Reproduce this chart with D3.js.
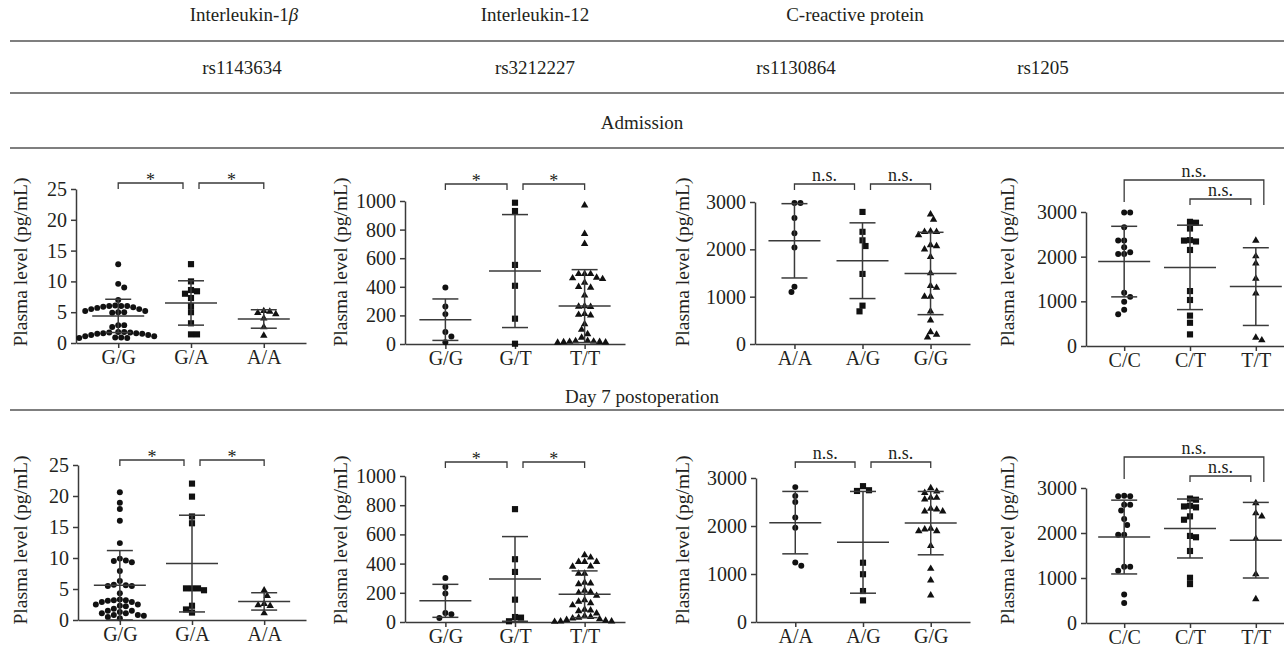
<!DOCTYPE html>
<html>
<head>
<meta charset="utf-8">
<script src="https://cdn.jsdelivr.net/npm/d3@7/dist/d3.min.js"></script>
<style>
  body { margin: 0; background: #fff; }
  text { font-family: "Liberation Serif", "Times New Roman", serif; fill: #231f20; }
</style>
</head>
<body>
<div id="chart"></div>
<script>
// header labels
var proteins = ["Interleukin-1", "Interleukin-12", "C-reactive protein"];
var snps = ["rs1143634", "rs3212227", "rs1130864", "rs1205"];
var timepoints = ["Admission", "Day 7 postoperation"];

// genotypes
var genoIL1 = ["G/G", "G/A", "A/A"];
var genoIL12 = ["G/G", "G/T", "T/T"];
var genoCRP1 = ["A/A", "A/G", "G/G"];
var genoCRP2 = ["C/C", "C/T", "T/T"];

// y ticks
var ticksIL1 = [0, 5, 10, 15, 20, 25];
var ticksIL12 = [0, 200, 400, 600, 800, 1000];
var ticksCRP = [0, 1000, 2000, 3000];

// --- admission ---
var adIL1 = [
  [12.8, 9.0, 9.6, 7.0, 6.1, 6.0, 5.9, 5.7, 5.5, 5.2, 5.0, 4.9, 5.0, 5.2, 5.5, 5.8, 6.0, 6.0,
   2.9, 2.6, 2.9, 1.8, 1.7, 1.6, 1.5, 1.3, 1.1, 0.9, 0.8, 0.8, 0.9, 1.1, 1.3, 1.5, 1.6, 1.7, 1.8],
  [12.8, 10.0, 8.6, 8.0, 8.4, 7.3, 6.0, 5.0, 3.2, 1.4, 1.4],
  [5.1, 4.7, 4.0, 4.9, 5.2, 2.6, 1.2]
];
var adIL1Mean = [4.4, 6.5, 3.9];
var adIL1SD = [2.7, 3.6, 1.5];

var adIL12 = [
  [395, 263, 209, 84, 53, 12],
  [988, 930, 553, 407, 177, 2],
  [970, 770, 700, 490, 490, 490, 465, 460, 455, 430, 400, 395, 340, 265, 262, 260, 210, 205, 200,
   140, 100, 70, 45, 22, 20, 18, 16, 15, 14, 12, 10]
];
var adIL12Mean = [170, 510, 265];
var adIL12SD = [145, 395, 255];

var adCRP1 = [
  [2980, 2980, 2660, 2340, 2040, 1100, 1210],
  [2790, 2370, 2190, 2070, 1480, 810, 690],
  [2740, 2630, 2380, 2370, 2370, 2300, 2070, 2090, 2000, 1840, 1500, 1190, 1230, 1000, 1000,
   690, 500, 250, 140, 200]
];
var adCRP1Mean = [2180, 1760, 1490];
var adCRP1SD = [785, 800, 870];

var adCRP2 = [
  [2990, 2990, 2660, 2360, 2360, 2210, 2060, 2060, 2100, 1190, 1100, 990, 710, 810],
  [2780, 2760, 2630, 2370, 2360, 2340, 2150, 1230, 1030, 680, 520, 260],
  [2360, 2010, 1850, 1510, 1180, 130, 190]
];
var adCRP2Mean = [1890, 1760, 1330];
var adCRP2SD = [790, 945, 870];

// --- day 7 postoperation ---
var d7IL1 = [
  [20.6, 18.9, 17.9, 16.0, 12.4, 9.9, 9.6, 9.5, 9.3, 7.9, 6.3, 5.6, 5.5, 5.7, 5.5, 4.3,
   3.2, 3.1, 2.9, 2.5, 2.3, 2.2, 2.5, 2.9, 3.2, 3.3, 1.5, 1.3, 1.1, 0.8, 0.7, 0.5, 0.8, 1.1, 1.5, 1.8, 0.3],
  [22.0, 19.9, 16.7, 15.6, 5.1, 5.1, 4.8, 5.1, 2.3, 1.2, 1.7],
  [4.8, 3.9, 2.6, 2.3, 2.4, 1.1]
];
var d7IL1Mean = [5.6, 9.1, 3.0];
var d7IL1SD = [5.6, 7.8, 1.4];

var d7IL12 = [
  [302, 240, 195, 62, 53, 27],
  [773, 430, 343, 153, 30, 34, 5],
  [458, 442, 412, 412, 412, 382, 380, 332, 332, 270, 265, 260, 215, 205, 200, 180, 150, 140, 130,
   115, 85, 80, 75, 60, 40, 35, 30, 25, 20, 15, 10, 5, 5, 2]
];
var d7IL12Mean = [145, 295, 190];
var d7IL12SD = [113, 290, 160];

var d7CRP1 = [
  [2810, 2625, 2500, 2175, 1965, 1170, 1240],
  [2830, 2730, 2745, 1235, 995, 645, 450],
  [2720, 2790, 2590, 2590, 2690, 2555, 2360, 2305, 2305, 2345, 1930, 1895, 1895, 1945, 1585, 1110, 870, 555]
];
var d7CRP1Mean = [2070, 1660, 2060];
var d7CRP1SD = [650, 1060, 660];

var d7CRP2 = [
  [2830, 2815, 2815, 2630, 2630, 2500, 2310, 2180, 1960, 1960, 1250, 1250, 1160, 635, 445],
  [2765, 2740, 2605, 2570, 2590, 2370, 2295, 1905, 1935, 1600, 1005, 865],
  [2665, 2440, 2370, 1870, 1085, 530]
];
var d7CRP2Mean = [1910, 2100, 1840];
var d7CRP2SD = [820, 655, 840];

// significance labels for the brackets
var sigIL1 = ["*", "*"];
var sigIL12 = ["*", "*"];
var sigCRP1 = ["n.s.", "n.s."];
var sigCRP2 = ["n.s.", "n.s."];

var W = 1284, H = 652;
var ink = "#3a3a3a";

var svg = d3.select("#chart").append("svg")
    .attr("width", W)
    .attr("height", H);

// header rules and labels
[41, 93, 148, 410].forEach(function(y) {
  svg.append("line").attr("x1", 10).attr("x2", W).attr("y1", y).attr("y2", y)
    .attr("stroke", "#555").attr("stroke-width", 1.5);
});

var protX = [244, 535, 855];
proteins.forEach(function(p, i) {
  var t = svg.append("text").attr("x", protX[i]).attr("y", 21)
    .attr("text-anchor", "middle").style("font-size", "19px").text(p);
  if (i === 0) t.append("tspan").style("font-style", "italic").text("\u03b2");
});

var snpX = [242, 535, 796, 1043];
snps.forEach(function(s, i) {
  svg.append("text").attr("x", snpX[i]).attr("y", 74)
    .attr("text-anchor", "middle").style("font-size", "19px").text(s);
});

svg.append("text").attr("x", 642).attr("y", 129).attr("text-anchor", "middle")
  .style("font-size", "19px").text(timepoints[0]);
svg.append("text").attr("x", 642).attr("y", 403).attr("text-anchor", "middle")
  .style("font-size", "19px").text(timepoints[1]);

// panels: data + layout
var panels = [
  {cats: genoIL1, pts: adIL1, mean: adIL1Mean, sd: adIL1SD, ticks: ticksIL1, sig: sigIL1, nested: false,
   x0: 76, x1: 306, base: 343, top: 189, titleX: 20, titleY: 262},
  {cats: genoIL12, pts: adIL12, mean: adIL12Mean, sd: adIL12SD, ticks: ticksIL12, sig: sigIL12, nested: false,
   x0: 405, x1: 625, base: 344, top: 201, titleX: 340, titleY: 262},
  {cats: genoCRP1, pts: adCRP1, mean: adCRP1Mean, sd: adCRP1SD, ticks: ticksCRP, sig: sigCRP1, nested: false,
   x0: 755, x1: 970, base: 344, top: 202, titleX: 682, titleY: 262},
  {cats: genoCRP2, pts: adCRP2, mean: adCRP2Mean, sd: adCRP2SD, ticks: ticksCRP, sig: sigCRP2, nested: true,
   x0: 1086, x1: 1294, base: 346, top: 212, titleX: 1007, titleY: 262},
  {cats: genoIL1, pts: d7IL1, mean: d7IL1Mean, sd: d7IL1SD, ticks: ticksIL1, sig: sigIL1, nested: false,
   x0: 78, x1: 306, base: 620, top: 465, titleX: 20, titleY: 540},
  {cats: genoIL12, pts: d7IL12, mean: d7IL12Mean, sd: d7IL12SD, ticks: ticksIL12, sig: sigIL12, nested: false,
   x0: 405, x1: 625, base: 622, top: 476, titleX: 340, titleY: 540},
  {cats: genoCRP1, pts: d7CRP1, mean: d7CRP1Mean, sd: d7CRP1SD, ticks: ticksCRP, sig: sigCRP1, nested: false,
   x0: 756, x1: 970, base: 622, top: 478, titleX: 682, titleY: 540},
  {cats: genoCRP2, pts: d7CRP2, mean: d7CRP2Mean, sd: d7CRP2SD, ticks: ticksCRP, sig: sigCRP2, nested: true,
   x0: 1086, x1: 1294, base: 623, top: 488, titleX: 1007, titleY: 540}
];

var symbols = [
  d3.symbol().type(d3.symbolCircle).size(28),
  d3.symbol().type(d3.symbolSquare).size(38),
  d3.symbol().type(d3.symbolTriangle).size(24)
];

// simple deterministic beeswarm: push points sideways until they stop overlapping
function swarm(values, y, d) {
  var placed = [];
  var order = values.map(function(v, i) { return i; })
    .sort(function(a, b) { return values[b] - values[a]; });
  var out = new Array(values.length);
  var flip = 1;
  order.forEach(function(i) {
    var py = y(values[i]);
    var off = 0;
    for (var k = 0; k < 60; k++) {
      var cands = k === 0 ? [0] : [flip * k * d * 0.5, -flip * k * d * 0.5];
      var ok = cands.filter(function(c) {
        return placed.every(function(p) {
          var dx = p.x - c, dy = p.y - py;
          return dx * dx + dy * dy >= d * d;
        });
      });
      if (ok.length) { off = ok[0]; break; }
    }
    if (off !== 0) flip = -flip;
    placed.push({x: off, y: py});
    out[i] = off;
  });
  return out;
}

panels.forEach(function(p) {
  var g = svg.append("g");

  var x = d3.scalePoint().domain(p.cats).range([p.x0, p.x1]).padding(0.58);
  var y = d3.scaleLinear().domain([0, p.ticks[p.ticks.length - 1]]).range([p.base, p.top]);

  // axes
  var ya = g.append("g").attr("transform", "translate(" + p.x0 + ",0)")
    .call(d3.axisLeft(y).tickValues(p.ticks).tickFormat(d3.format("d"))
      .tickSize(5).tickSizeOuter(0).tickPadding(4));
  var xa = g.append("g").attr("transform", "translate(0," + p.base + ")")
    .call(d3.axisBottom(x).tickSize(5).tickSizeOuter(0).tickPadding(2));
  [ya, xa].forEach(function(a) {
    a.selectAll("path, line").attr("stroke", ink).attr("stroke-width", 1.5);
    a.selectAll("text").style("font-size", "20px").attr("fill", "#231f20")
      .style("font-family", "'Liberation Serif', serif");
  });

  g.append("text")
    .attr("transform", "translate(" + p.titleX + "," + p.titleY + ") rotate(-90)")
    .attr("text-anchor", "middle").attr("dy", "0.35em")
    .style("font-size", "19.5px").text("Plasma level (pg/mL)");

  // dots
  p.cats.forEach(function(c, ci) {
    var offs = swarm(p.pts[ci], y, 6);
    g.selectAll(null).data(p.pts[ci]).enter().append("path")
      .attr("d", symbols[ci])
      .attr("transform", function(v, i) {
        return "translate(" + (x(c) + offs[i]) + "," + y(v) + ")";
      })
      .attr("fill", "#111");

    // mean and SD
    var cx = x(c), m = p.mean[ci], s = p.sd[ci];
    var lo = Math.max(0, m - s), hi = m + s;
    g.append("line").attr("x1", cx - 26).attr("x2", cx + 26)
      .attr("y1", y(m)).attr("y2", y(m)).attr("stroke", ink).attr("stroke-width", 1.5);
    g.append("line").attr("x1", cx).attr("x2", cx)
      .attr("y1", y(lo)).attr("y2", y(hi)).attr("stroke", ink).attr("stroke-width", 1.5);
    [lo, hi].forEach(function(v) {
      g.append("line").attr("x1", cx - 13).attr("x2", cx + 13)
        .attr("y1", y(v)).attr("y2", y(v)).attr("stroke", ink).attr("stroke-width", 1.5);
    });
  });

  // brackets
  var br;
  if (!p.nested) {
    var by = p.base - 160;
    br = [
      {xa: x(p.cats[0]), xb: x(p.cats[1]) - 8, y: by, la: 6, lb: 6, t: p.sig[0]},
      {xa: x(p.cats[1]) + 8, xb: x(p.cats[2]), y: by, la: 6, lb: 6, t: p.sig[1]}
    ];
  } else {
    br = [
      {xa: x(p.cats[0]), xb: x(p.cats[2]) + 8, y: p.base - 166, la: 22, lb: 25, t: p.sig[0]},
      {xa: x(p.cats[1]), xb: x(p.cats[2]) - 5, y: p.base - 147, la: 6, lb: 6, t: p.sig[1]}
    ];
  }
  br.forEach(function(b) {
    g.append("path")
      .attr("d", "M" + b.xa + "," + (b.y + b.la) + "V" + b.y + "H" + b.xb + "V" + (b.y + b.lb))
      .attr("fill", "none").attr("stroke", ink).attr("stroke-width", 1.3);
    g.append("text").attr("x", (b.xa + b.xb) / 2)
      .attr("y", b.t === "*" ? b.y + 3 : b.y - 3)
      .attr("text-anchor", "middle").style("font-size", "18px").text(b.t);
  });
});
</script>
</body>
</html>
